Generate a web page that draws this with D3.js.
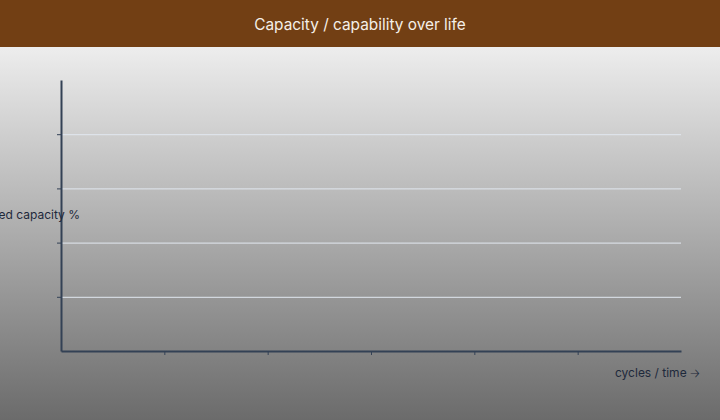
<!DOCTYPE html>
<html lang="en">
<head>
    <meta charset="UTF-8">
    <title>Capacity / capability over life</title>
    <script src="https://d3js.org/d3.v7.min.js"></script>
    <style>
        body { margin: 0; }
        text { font-family: Inter, "Noto Sans", sans-serif; }
        .title { font-size: 15.4px; fill: #f5efe8; text-anchor: middle; }
        .axis-label { font-size: 12px; fill: #1e293b; }
        .grid line { stroke: #e2e8f0; stroke-width: 1; }
        .axis path, .axis line { stroke: #334155; }
        .axis path { stroke-width: 2; }
    </style>
</head>
<body>
    <div id="chart"></div>
    <script>
        const width = 720, height = 420;
        const margin = { top: 80, right: 39, bottom: 69, left: 61 };
        const titleHeight = 47;

        // chart values
        const titleText = "Capacity / capability over life";
        const yLabel = "Retained capacity %";
        const xLabel = "cycles / time \u{1F862}";
        const yDomain = [0, 100];
        const xDomain = [0, 6];
        const yTicks = [20, 40, 60, 80];
        const xTicks = [1, 2, 3, 4, 5];
        const capacity = []; // no series plotted in the reference

        const svg = d3.select("#chart")
            .append("svg")
            .attr("width", width)
            .attr("height", height);

        const defs = svg.append("defs");
        const grad = defs.append("linearGradient")
            .attr("id", "bg")
            .attr("x1", 0).attr("y1", 0)
            .attr("x2", 0).attr("y2", 1);
        grad.append("stop").attr("offset", "0%").attr("stop-color", "#ededed");
        grad.append("stop").attr("offset", "100%").attr("stop-color", "#6b6b6b");

        svg.append("rect")
            .attr("y", titleHeight)
            .attr("width", width)
            .attr("height", height - titleHeight)
            .attr("fill", "url(#bg)");

        svg.append("rect")
            .attr("width", width)
            .attr("height", titleHeight)
            .attr("fill", "#723f14");

        svg.append("text")
            .attr("class", "title")
            .attr("x", width / 2)
            .attr("y", 29.5)
            .text(titleText);

        const x = d3.scaleLinear().domain(xDomain).range([margin.left, width - margin.right]);
        const y = d3.scaleLinear().domain(yDomain).range([height - margin.bottom, margin.top]);

        // gridlines
        svg.append("g")
            .attr("class", "grid")
            .selectAll("line")
            .data(yTicks)
            .join("line")
            .attr("x1", x(xDomain[0]) + 1)
            .attr("x2", x(xDomain[1]))
            .attr("y1", d => y(d) + 0.5)
            .attr("y2", d => y(d) + 0.5);

        // axes
        svg.append("g")
            .attr("class", "axis")
            .attr("transform", `translate(0,${height - margin.bottom})`)
            .call(d3.axisBottom(x).tickValues(xTicks).tickSize(4).tickSizeOuter(0).tickFormat(""));

        svg.append("g")
            .attr("class", "axis")
            .attr("transform", `translate(${margin.left},0)`)
            .call(d3.axisLeft(y).tickValues(yTicks).tickSize(4).tickSizeOuter(0).tickFormat(""));

        svg.append("path")
            .datum(capacity)
            .attr("fill", "none")
            .attr("stroke", "#334155")
            .attr("d", d3.line().x(d => x(d.t)).y(d => y(d.v)));

        // axis labels
        svg.append("text")
            .attr("class", "axis-label")
            .attr("x", 80)
            .attr("y", y(50) + 3)
            .attr("text-anchor", "end")
            .text(yLabel);

        svg.append("text")
            .attr("class", "axis-label")
            .attr("x", 700)
            .attr("y", 377)
            .attr("text-anchor", "end")
            .text(xLabel);
    </script>
</body>
</html>
